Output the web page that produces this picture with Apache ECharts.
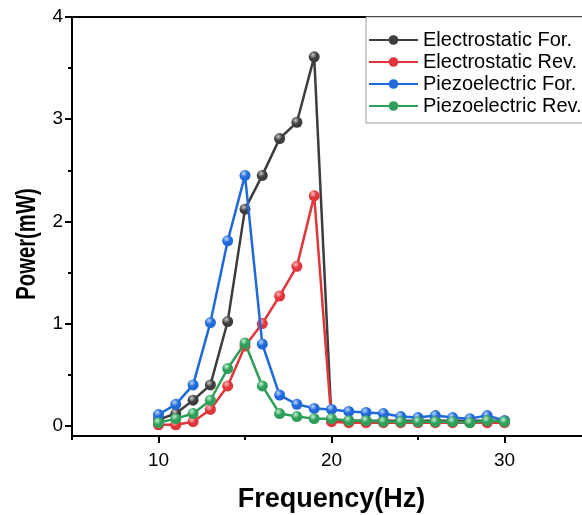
<!DOCTYPE html>
<html>
<head>
<meta charset="utf-8">
<script src="https://cdn.jsdelivr.net/npm/echarts@6/dist/echarts.min.js"></script>
<style>html,body{margin:0;padding:0;background:#fff}#c{width:582px;height:515px}</style>
</head>
<body>
<div id="c"></div>
<script>
const frequency = [10,11,12,13,14,15,16,17,18,19,20,21,22,23,24,25,26,27,28,29,30];
const seriesNames = ['Electrostatic For.','Electrostatic Rev.','Piezoelectric For.','Piezoelectric Rev.'];
const electrostaticFor = [0.06,0.12,0.25,0.40,1.02,2.12,2.45,2.81,2.97,3.61,0.05,0.05,0.05,0.05,0.05,0.05,0.05,0.05,0.05,0.05,0.05];
const electrostaticRev = [0.01,0.01,0.04,0.16,0.39,0.78,1.00,1.27,1.56,2.25,0.04,0.03,0.03,0.03,0.03,0.03,0.03,0.03,0.03,0.03,0.03];
const piezoFor = [0.11,0.21,0.40,1.01,1.81,2.45,0.80,0.30,0.21,0.17,0.16,0.14,0.13,0.12,0.09,0.08,0.10,0.08,0.07,0.10,0.05];
const piezoRev = [0.03,0.07,0.12,0.25,0.56,0.81,0.39,0.12,0.09,0.07,0.07,0.05,0.05,0.04,0.04,0.04,0.04,0.04,0.03,0.05,0.04];
const xMajorTicks = [10,20,30];
const xMinorTicks = [5,15,25];
const yMajorTicks = [0,1,2,3,4];
const yMinorTicks = [0.5,1.5,2.5,3.5];
const xTitle = 'Frequency(Hz)';
const yTitle = 'Power(mW)';

const colors = ['#3d3d3d','#e0353a','#1f6ad8','#2f9e5a'];
const lights = ['#c8c8c8','#ffc0c0','#b8d6ff','#bff0d0'];
const values = [electrostaticFor, electrostaticRev, piezoFor, piezoRev];

const chart = echarts.init(document.getElementById('c'));
const font = 'Arial, "Liberation Sans", sans-serif';
const series = seriesNames.map((n,i)=>({
  name:n, type:'line', xAxisIndex:0, yAxisIndex:0,
  data: frequency.map((f,j)=>[f, values[i][j]]),
  symbol:'circle', symbolSize:11, showSymbol:true,
  lineStyle:{color:colors[i], width:2.5},
  itemStyle:{color:{type:'radial',x:0.38,y:0.32,r:0.7,colorStops:[{offset:0,color:lights[i]},{offset:0.5,color:colors[i]},{offset:1,color:colors[i]}]}, borderWidth:0},
  z: 2+i, animation:false
}));

chart.setOption({
  backgroundColor:'#fff',
  animation:false,
  color: colors,
  grid:{left:72, top:17, width:519, bottom:79, show:true, borderColor:'#000', borderWidth:2, containLabel:false, outerBoundsMode:'none'},
  legend:{
    orient:'vertical', left:366, top:17,
    padding:[13,60,7,2], itemGap:2, itemWidth:49, itemHeight:12,
    backgroundColor:'#fff', borderColor:'#999', borderWidth:1,
    textStyle:{fontFamily:font, fontSize:20, color:'#000', padding:[0,0,0,0]},
    data: seriesNames.map((n,i)=>({name:n, itemStyle:{color:colors[i]}}))
  },
  graphic:[{
    type:'text', x:27, y:244, rotation:Math.PI/2, scaleX:0.78, scaleY:1.05,
    style:{text:yTitle, fontFamily:font, fontSize:26, fontWeight:'bold', fill:'#000', align:'center', verticalAlign:'middle'}
  }],
  xAxis:[
    {type:'value', min:5, max:35, position:'bottom',
     name:xTitle, nameLocation:'middle', nameGap:50,
     nameTextStyle:{fontFamily:font, fontSize:27, fontWeight:'bold', color:'#000'},
     axisLine:{show:true, onZero:false, lineStyle:{color:'#000', width:2}},
     axisTick:{show:true, inside:false, length:7, lineStyle:{color:'#000', width:2}, customValues:xMajorTicks},
     axisLabel:{show:true, margin:15, fontFamily:font, fontSize:19, color:'#000', customValues:xMajorTicks},
     splitLine:{show:false}},
    {type:'value', min:5, max:35, position:'bottom',
     axisLine:{show:false, onZero:false},
     axisTick:{show:true, inside:false, length:4, lineStyle:{color:'#000', width:2}, customValues:xMinorTicks},
     axisLabel:{show:false}, splitLine:{show:false}}
  ],
  yAxis:[
    {type:'value', min:-0.1, max:4, position:'left',
     axisLine:{show:true, onZero:false, lineStyle:{color:'#000', width:2}},
     axisTick:{show:true, inside:false, length:7, lineStyle:{color:'#000', width:2}, customValues:yMajorTicks},
     axisLabel:{show:true, margin:9, fontFamily:font, fontSize:19, color:'#000', customValues:yMajorTicks},
     splitLine:{show:false}},
    {type:'value', min:-0.1, max:4, position:'left', offset:0,
     axisLine:{show:false, onZero:false},
     axisTick:{show:true, inside:false, length:4, lineStyle:{color:'#000', width:2}, customValues:yMinorTicks},
     axisLabel:{show:false}, splitLine:{show:false}}
  ],
  series: series
});
</script>
</body>
</html>
